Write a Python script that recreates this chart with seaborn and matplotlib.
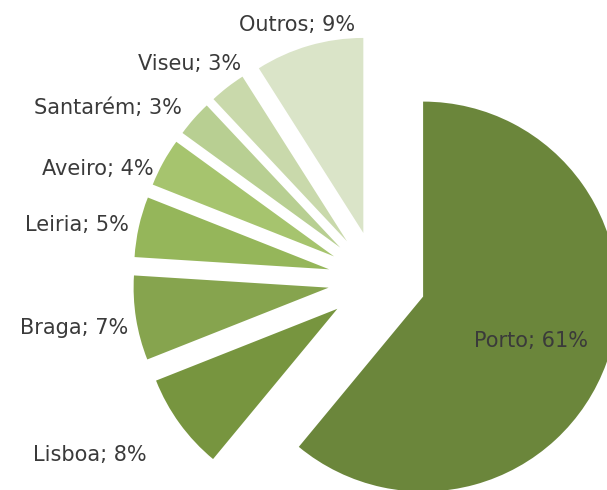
import numpy as np
import seaborn as sns
import matplotlib
matplotlib.use("Agg")
import matplotlib.pyplot as plt

sns.set_theme(style="white")
plt.rcParams['font.family'] = ['DejaVu Sans']

# data (share of total, %)
cities = ["Porto", "Lisboa", "Braga", "Leiria", "Aveiro", "Santarém", "Viseu", "Outros"]
shares = [61, 8, 7, 5, 4, 3, 3, 9]

colors = ["#6b863b", "#77953f", "#86a44e", "#95b65a", "#a6c46e",
          "#b8cf92", "#c9d9ab", "#dae4c8"]

# label placement (fraction of radius, angle tweak in degrees, alignment)
lab_dist = [0.60, 1.23, 1.05, 1.05, 1.03, 1.08, 1.06, 1.12]
lab_rot = [-2.5, 1.5, 2.5, 0, 3, 0, -7, 1.5]
lab_ha = ["center", "right", "right", "right", "right", "right", "right", "center"]

W, H = 607, 490
fig = plt.figure(figsize=(W / 100, H / 100), dpi=100)
ax = fig.add_axes([0, 0, 1, 1])

R = 195
wedges, _ = ax.pie(shares, startangle=90, counterclock=False,
                   center=(377, H - 280), radius=R,
                   explode=[49] * len(shares), colors=colors,
                   wedgeprops=dict(linewidth=0))

for w, name, val, d, rot, ha in zip(wedges, cities, shares, lab_dist, lab_rot, lab_ha):
    th = np.deg2rad((w.theta1 + w.theta2) / 2 + rot)
    cx, cy = w.center
    ax.text(cx + d * R * np.cos(th), cy + d * R * np.sin(th), f"{name}; {val}%",
            ha=ha, va="center", fontsize=15, color="#3a3a3a")

ax.set_xlim(0, W)
ax.set_ylim(0, H)
ax.set_aspect("equal")
ax.axis("off")

plt.savefig("out.png", dpi=100)
